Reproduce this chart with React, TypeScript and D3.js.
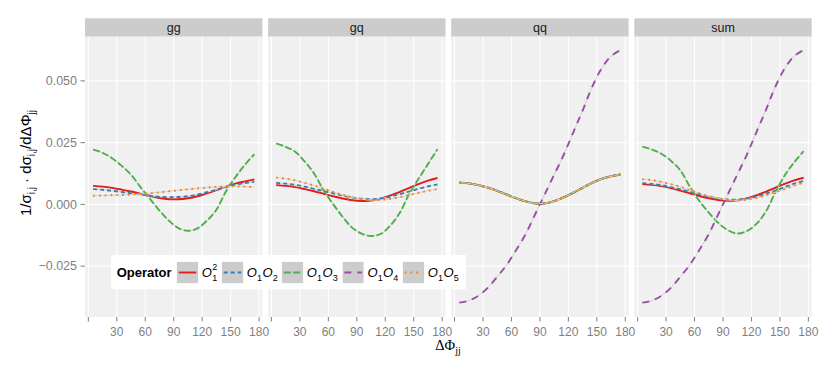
import React from "react";
import * as d3 from "d3";

// bin centres of Delta Phi_jj (degrees)
const dphi = [5, 15, 25, 35, 45, 55, 65, 75, 85, 95, 105, 115, 125, 135, 145, 155, 165, 175];

const facets = ["gg", "gq", "qq", "sum"];
const opNames = ["O1^2", "O1O2", "O1O3", "O1O4", "O1O5"];
const opColors = ["#e41a1c", "#377eb8", "#4daf4a", "#984ea3", "#ff7f00"];
const opDash = ["none", "4,3", "7,2.5", "7,6", "1.8,4"];

// gg
const ggO1sq = [0.0075, 0.0072, 0.0067, 0.006, 0.0052, 0.0043, 0.0034, 0.0026, 0.0021, 0.0021, 0.0025, 0.0033, 0.0045, 0.0058, 0.0072, 0.0084, 0.0093, 0.0101];
const ggO1O2 = [0.0062, 0.0059, 0.0055, 0.005, 0.0045, 0.004, 0.0035, 0.0031, 0.0029, 0.003, 0.0033, 0.004, 0.0049, 0.0059, 0.007, 0.0079, 0.0086, 0.0091];
const ggO1O3 = [0.0222, 0.0209, 0.0187, 0.0157, 0.012, 0.007, 0.0022, -0.0025, -0.0066, -0.0096, -0.0107, -0.0097, -0.0066, -0.0022, 0.0052, 0.011, 0.016, 0.0203];
const ggO1O5 = [0.0035, 0.0036, 0.0037, 0.0038, 0.004, 0.0042, 0.0045, 0.0049, 0.0053, 0.0057, 0.0061, 0.0065, 0.0068, 0.0071, 0.0073, 0.0073, 0.0072, 0.007];

// gq
const gqO1sq = [0.0078, 0.0075, 0.007, 0.0062, 0.0053, 0.0043, 0.0033, 0.0024, 0.0017, 0.0014, 0.0016, 0.0023, 0.0035, 0.005, 0.0066, 0.0082, 0.0096, 0.0107];
const gqO1O2 = [0.0087, 0.0084, 0.0079, 0.0072, 0.0063, 0.0054, 0.0045, 0.0036, 0.0028, 0.0023, 0.0021, 0.0024, 0.0031, 0.0041, 0.0052, 0.0063, 0.0073, 0.0081];
const gqO1O3 = [0.0247, 0.0233, 0.0213, 0.0174, 0.0125, 0.0057, 0.0001, -0.005, -0.0094, -0.0118, -0.0128, -0.012, -0.0087, -0.0036, 0.004, 0.0103, 0.0163, 0.0223];
const gqO1O5 = [0.0109, 0.0104, 0.0097, 0.0087, 0.0076, 0.0064, 0.0051, 0.0039, 0.0029, 0.0021, 0.0017, 0.0018, 0.0022, 0.0029, 0.0038, 0.0047, 0.0055, 0.0062];

// qq (all but O1O4 lie on top of each other)
const qqO1sq = [0.0088, 0.0085, 0.0078, 0.0068, 0.0055, 0.004, 0.0025, 0.0012, 0.0004, 0.0004, 0.0013, 0.0028, 0.0047, 0.0067, 0.0087, 0.0103, 0.0114, 0.0121];
const qqO1O2 = [0.0088, 0.0085, 0.0078, 0.0068, 0.0055, 0.004, 0.0025, 0.0012, 0.0004, 0.0004, 0.0013, 0.0028, 0.0047, 0.0067, 0.0087, 0.0103, 0.0114, 0.0121];
const qqO1O3 = [0.0088, 0.0085, 0.0078, 0.0068, 0.0055, 0.004, 0.0025, 0.0012, 0.0004, 0.0004, 0.0013, 0.0028, 0.0047, 0.0067, 0.0087, 0.0103, 0.0114, 0.0121];
const qqO1O4 = [-0.0398, -0.039, -0.037, -0.0338, -0.0293, -0.0245, -0.0185, -0.012, -0.004, 0.004, 0.012, 0.02, 0.029, 0.038, 0.0475, 0.055, 0.06, 0.0625];
const qqO1O5 = [0.0088, 0.0085, 0.0078, 0.0068, 0.0055, 0.004, 0.0025, 0.0012, 0.0004, 0.0004, 0.0013, 0.0028, 0.0047, 0.0067, 0.0087, 0.0103, 0.0114, 0.0121];

// sum
const sumO1sq = [0.0082, 0.0079, 0.0074, 0.0066, 0.0056, 0.0045, 0.0034, 0.0025, 0.0018, 0.0015, 0.0017, 0.0024, 0.0036, 0.0051, 0.0067, 0.0083, 0.0097, 0.0108];
const sumO1O2 = [0.0086, 0.0083, 0.0078, 0.007, 0.0061, 0.0051, 0.0041, 0.0032, 0.0024, 0.002, 0.0019, 0.0023, 0.0031, 0.0043, 0.0056, 0.007, 0.0084, 0.0095];
const sumO1O3 = [0.0234, 0.0222, 0.0205, 0.0177, 0.0138, 0.0072, 0.0014, -0.0033, -0.0075, -0.0104, -0.0118, -0.0108, -0.008, -0.003, 0.0047, 0.0117, 0.017, 0.0216];
const sumO1O4 = [-0.0398, -0.039, -0.037, -0.0338, -0.0293, -0.0245, -0.0185, -0.012, -0.004, 0.004, 0.012, 0.02, 0.029, 0.038, 0.0475, 0.055, 0.06, 0.0625];
const sumO1O5 = [0.0102, 0.0098, 0.0091, 0.0082, 0.0071, 0.0058, 0.0045, 0.0033, 0.0024, 0.0018, 0.0016, 0.0019, 0.0026, 0.0036, 0.0049, 0.0062, 0.0076, 0.0088];

const yTicks = [0.05, 0.025, 0, -0.025];
const yTickLabels = ["0.050", "0.025", "0.000", "\u22120.025"];
const xTicks = [0, 30, 60, 90, 120, 150, 180];
const xTickLabels = ["", "30", "60", "90", "120", "150", "180"];

const W = 830;
const H = 369;
const left = 85;
const panelW = 177.4;
const gap = 5.7;
const top = 36.7;
const bottom = 317;
const stripTop = 18.3;
const font = "'Liberation Sans', Arial, sans-serif";

const App = () => {
  const series: (number[] | null)[][] = [
    [ggO1sq, ggO1O2, ggO1O3, null, ggO1O5],
    [gqO1sq, gqO1O2, gqO1O3, null, gqO1O5],
    [qqO1sq, qqO1O2, qqO1O3, qqO1O4, qqO1O5],
    [sumO1sq, sumO1O2, sumO1O3, sumO1O4, sumO1O5],
  ];

  const x = d3.scaleLinear().domain([-3.5, 183.5]).range([0, panelW]);
  const y = d3.scaleLinear().domain([-0.0456, 0.0679]).range([bottom, top]);
  const line = d3
    .line<[number, number]>()
    .x((d) => x(d[0]))
    .y((d) => y(d[1]))
    .curve(d3.curveCatmullRom);

  // legend layout
  const legX = 111, legY = 255, legW = 355, legH = 34.3;
  const keyX = [176.7, 221.7, 281.7, 342.3, 402.7];
  const keyY = 261.7, keyS = 21.6;

  return (
    <svg width={W} height={H} style={{ position: "absolute", left: 0, top: 0 }} fontFamily={font}>
      <rect width={W} height={H} fill="#fff" />
      {facets.map((f, i) => {
        const px = left + i * (panelW + gap);
        return (
          <g key={f} transform={`translate(${px},0)`}>
            <rect x={0} y={stripTop} width={panelW} height={top - stripTop} fill="#cccccc" />
            <text x={panelW / 2} y={top - 5} textAnchor="middle" fontSize={12.5} fill="#1a1a1a">
              {f}
            </text>
            <rect x={0} y={top} width={panelW} height={bottom - top} fill="#f0f0f0" />
            {yTicks.map((t) => (
              <line key={t} x1={0} x2={panelW} y1={y(t)} y2={y(t)} stroke="#fff" strokeWidth={1.1} />
            ))}
            {xTicks.map((t) => (
              <line key={t} x1={x(t)} x2={x(t)} y1={top} y2={bottom} stroke="#fff" strokeWidth={1.1} />
            ))}
            {series[i].map((vals, k) => {
              if (!vals) return null;
              const pts = dphi.map((d, j) => [d, vals[j]] as [number, number]);
              const path = line(pts) || "";
              return (
                <g key={k}>
                  <path d={path} fill="none" stroke="#d2d2d2" strokeWidth={1} />
                  <path
                    d={path}
                    fill="none"
                    stroke={opColors[k]}
                    strokeWidth={1.9}
                    strokeDasharray={opDash[k]}
                  />
                </g>
              );
            })}
            {xTicks.map((t, j) => (
              <g key={t}>
                <line x1={x(t)} x2={x(t)} y1={bottom} y2={bottom + 4.5} stroke="#7f7f7f" strokeWidth={1} />
                <text x={x(t)} y={335.5} textAnchor="middle" fontSize={12} fill="#7f7f7f">
                  {xTickLabels[j]}
                </text>
              </g>
            ))}
          </g>
        );
      })}
      {yTicks.map((t, j) => (
        <g key={t}>
          <line x1={left - 4.5} x2={left} y1={y(t)} y2={y(t)} stroke="#7f7f7f" strokeWidth={1} />
          <text x={left - 8} y={y(t) + 4.3} textAnchor="end" fontSize={12.5} fill="#7f7f7f">
            {yTickLabels[j]}
          </text>
        </g>
      ))}
      <text x={448} y={350} textAnchor="middle" fontSize={14.5} fontFamily="'Liberation Serif', serif" fill="#000">
        ΔΦ<tspan fontSize={10} dy={4}>jj</tspan>
      </text>
      <text transform="translate(31,163) rotate(-90)" textAnchor="middle" fontSize={15} fill="#000">
        1/σ<tspan fontSize={10} dy={3.5}>i,j</tspan>
        <tspan dy={-3.5}> · dσ</tspan>
        <tspan fontSize={10} dy={3.5}>i,j</tspan>
        <tspan dy={-3.5}>/dΔΦ</tspan>
        <tspan fontSize={10} dy={3.5}>jj</tspan>
      </text>
      <g>
        <rect x={legX} y={legY} width={legW} height={legH} fill="#fff" />
        <text x={116.7} y={276.5} fontSize={13} fontWeight="bold" fill="#000">
          Operator
        </text>
        {opNames.map((n, k) => {
          const kx = keyX[k];
          const lx = kx + keyS + 3.5;
          const ly = 276.5;
          return (
            <g key={n}>
              <rect x={kx} y={keyY} width={keyS} height={keyS} fill="#cccccc" stroke="#fff" strokeWidth={0.5} />
              <line
                x1={kx + 2}
                x2={kx + keyS - 2}
                y1={keyY + keyS / 2}
                y2={keyY + keyS / 2}
                stroke={opColors[k]}
                strokeWidth={1.9}
                strokeDasharray={opDash[k]}
              />
              {k === 0 ? (
                <g fill="#000">
                  <text x={lx} y={ly} fontSize={13} fontStyle="italic">O</text>
                  <text x={lx + 10.5} y={ly + 4} fontSize={9}>1</text>
                  <text x={lx + 10.5} y={ly - 6.5} fontSize={9}>2</text>
                </g>
              ) : (
                <g fill="#000">
                  <text x={lx} y={ly} fontSize={13} fontStyle="italic">O</text>
                  <text x={lx + 10.3} y={ly + 4} fontSize={9}>1</text>
                  <text x={lx + 15.6} y={ly} fontSize={13} fontStyle="italic">O</text>
                  <text x={lx + 25.9} y={ly + 4} fontSize={9}>{String(k + 1)}</text>
                </g>
              )}
            </g>
          );
        })}
      </g>
    </svg>
  );
};

export default App;
